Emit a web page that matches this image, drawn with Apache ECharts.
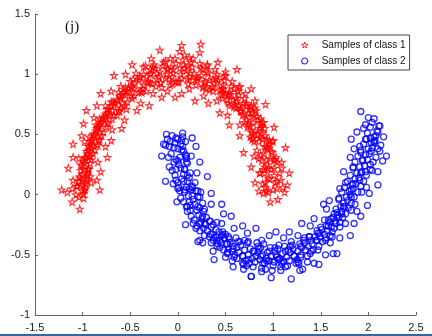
<!DOCTYPE html>
<html><head><meta charset="utf-8">
<script src="https://cdn.jsdelivr.net/npm/echarts@6/dist/echarts.min.js"></script>
<style>html,body{margin:0;padding:0;background:#fff}#c{width:432px;height:336px}</style>
</head><body><div id="c"></div>
<script>
var seriesNames = ['Samples of class 1', 'Samples of class 2'];
var xTicks = [-1.5, -1, -0.5, 0, 0.5, 1, 1.5, 2, 2.5];
var yTicks = [-1, -0.5, 0, 0.5, 1, 1.5];
var class1 = [
[1.05,-0.04],[0.93,0.03],[1.10,0.06],[0.97,-0.06],[1.02,0.10],[0.90,0.01],[1.08,0.12],
[1.04,0.05],[0.95,0.14],[0.89,0.09],[1.12,0.02],[0.98,0.21],[1.07,0.18],[0.92,0.10],
[1.01,0.16],[0.94,0.25],[0.86,0.18],[1.09,0.22],[0.97,0.30],[1.04,0.27],[0.90,0.21],
[0.99,0.35],[0.88,0.28],[0.95,0.22],[1.03,0.31],[0.94,0.38],[0.87,0.33],[1.01,0.29],
[0.91,0.40],[0.98,0.36],[0.85,0.30],[0.96,0.45],[0.89,0.46],[0.83,0.37],[0.97,0.42],
[0.88,0.51],[0.93,0.40],[0.80,0.44],[0.86,0.48],[0.91,0.55],[0.84,0.50],[0.78,0.46],
[0.87,0.58],[0.81,0.53],[0.92,0.49],[0.76,0.57],[0.84,0.62],[0.79,0.51],[0.88,0.60],
[0.80,0.66],[0.74,0.58],[0.86,0.55],[0.82,0.70],[0.75,0.64],[0.81,0.72],[0.70,0.60],
[0.77,0.73],[0.69,0.67],[0.73,0.56],[0.83,0.65],[0.72,0.76],[0.66,0.70],[0.78,0.68],
[0.70,0.80],[0.64,0.74],[0.75,0.71],[0.68,0.66],[0.62,0.78],[0.71,0.84],[0.66,0.69],
[0.63,0.86],[0.58,0.79],[0.69,0.76],[0.61,0.72],[0.55,0.83],[0.64,0.89],[0.60,0.75],
[0.56,0.90],[0.50,0.84],[0.61,0.80],[0.53,0.76],[0.48,0.88],[0.57,0.94],[0.52,0.79],
[0.49,0.95],[0.44,0.87],[0.54,0.85],[0.47,0.80],[0.41,0.93],[0.50,0.99],[0.45,0.83],
[0.40,0.97],[0.36,0.90],[0.46,0.88],[0.39,1.04],[0.33,0.95],[0.41,1.00],[0.37,0.86],
[0.31,1.02],[0.28,0.93],[0.37,0.96],[0.33,0.87],[0.25,0.99],[0.31,1.07],[0.27,0.90],
[0.24,1.05],[0.20,0.97],[0.29,0.94],[0.24,1.25],[0.17,1.01],[0.23,1.09],[0.19,0.91],
[0.15,1.06],[0.12,0.98],[0.20,0.95],[0.16,1.13],[0.09,1.03],[0.14,1.10],[0.11,0.92],
[0.06,1.08],[0.03,1.00],[0.10,0.96],[0.07,1.16],[0.02,1.05],[0.05,1.12],[0.00,0.93],
[-0.02,1.09],[0.04,1.24],[-0.05,1.01],[0.01,0.94],[-0.07,1.06],[-0.03,1.13],[-0.09,0.96],
[-0.11,1.04],[-0.06,0.98],[-0.13,1.11],[-0.08,0.91],[-0.16,1.07],[-0.12,1.00],[-0.18,0.93],
[-0.19,1.02],[-0.15,1.10],[-0.22,0.96],[-0.17,0.89],[-0.24,1.05],[-0.20,0.98],[-0.27,0.92],
[-0.28,1.01],[-0.25,1.08],[-0.31,0.94],[-0.23,0.90],[-0.33,0.98],[-0.29,1.04],[-0.36,0.91],
[-0.36,1.00],[-0.32,0.93],[-0.39,0.86],[-0.34,1.07],[-0.41,0.95],[-0.37,0.88],[-0.44,1.01],
[-0.45,0.93],[-0.41,0.85],[-0.48,0.89],[-0.40,0.98],[-0.49,0.90],[-0.46,0.82],[-0.53,0.86],
[-0.52,0.88],[-0.48,0.80],[-0.55,0.83],[-0.50,0.94],[-0.57,0.85],[-0.53,0.77],[-0.60,0.80],
[-0.59,0.83],[-0.56,0.74],[-0.63,0.78],[-0.55,0.89],[-0.64,0.79],[-0.60,0.72],[-0.67,0.74],
[-0.66,0.76],[-0.62,0.69],[-0.69,0.70],[-0.61,0.82],[-0.70,0.74],[-0.67,0.66],[-0.74,0.68],
[-0.72,0.71],[-0.69,0.63],[-0.76,0.65],[-0.68,0.77],[-0.76,0.67],[-0.73,0.59],[-0.80,0.61],
[-0.78,0.64],[-0.75,0.56],[-0.82,0.58],[-0.74,0.71],[-0.81,0.60],[-0.78,0.52],[-0.85,0.55],
[-0.83,0.57],[-0.80,0.49],[-0.87,0.51],[-0.79,0.63],[-0.86,0.53],[-0.83,0.45],[-0.90,0.47],
[-0.88,0.50],[-0.85,0.42],[-0.92,0.44],[-0.84,0.56],[-0.90,0.45],[-0.87,0.37],[-0.94,0.40],
[-0.92,0.42],[-0.89,0.34],[-0.96,0.36],[-0.88,0.49],[-0.94,0.37],[-0.91,0.29],[-0.98,0.31],
[-0.95,0.34],[-0.92,0.26],[-0.99,0.28],[-0.90,0.41],[-0.97,0.29],[-0.94,0.21],[-1.01,0.24],
[-0.98,0.26],[-0.95,0.18],[-1.02,0.20],[-0.93,0.32],[-0.99,0.21],[-0.96,0.13],[-1.03,0.15],
[-1.00,0.17],[-0.97,0.09],[-1.04,0.11],[-0.94,0.22],[-1.01,0.12],[-0.98,0.04],[-1.06,0.07],
[-0.95,0.16],[-1.02,0.08],[-0.99,0.01],[-1.11,0.05],[-0.96,0.11],[-1.00,0.03],[-1.22,0.04],
[-1.04,-0.02],[-0.97,0.06],[-1.03,-0.12],[-1.11,-0.06],[-0.99,-0.03],[-1.07,0.00],
[0.85,0.03],[1.15,0.08],[0.81,0.10],[1.17,0.18],[0.86,0.18],[1.09,0.27],[0.77,0.23],[1.13,0.39],
[0.80,0.32],[1.00,0.45],[0.69,0.35],[1.01,0.56],[0.76,0.48],[0.90,0.60],[0.65,0.49],[0.92,0.75],
[0.65,0.58],[0.81,0.78],[0.54,0.58],[0.77,0.88],[0.52,0.66],[0.65,0.90],[0.44,0.68],[0.62,1.04],
[0.41,0.78],[0.50,1.02],[0.32,0.76],[0.42,1.10],[0.27,0.82],[0.31,1.08],[0.18,0.78],[0.23,1.18],
[0.12,0.88],[0.12,1.14],[0.04,0.84],[0.02,1.19],[-0.03,0.81],[-0.08,1.13],[-0.11,0.86],[-0.19,1.20],
[-0.17,0.81],[-0.28,1.13],[-0.26,0.84],[-0.36,1.06],[-0.30,0.74],[-0.48,1.08],[-0.39,0.76],[-0.55,1.00],
[-0.43,0.70],[-0.67,0.99],[-0.54,0.71],[-0.70,0.86],[-0.56,0.62],[-0.81,0.84],[-0.59,0.55],[-0.85,0.74],
[-0.69,0.54],[-0.96,0.70],[-0.70,0.45],[-0.99,0.59],[-0.76,0.40],[-1.01,0.49],[-0.74,0.31],[-1.10,0.42],
[-0.84,0.27],[-1.10,0.31],[-0.81,0.19],[-1.15,0.22],[-0.85,0.12],[-1.10,0.12],[-0.82,0.04],[-1.16,0.02],
[0.95,0.02],[1.04,0.11],[0.91,0.18],[1.02,0.29],[0.90,0.34],[0.93,0.46],[0.79,0.47],[0.87,0.63],
[0.72,0.62],[0.72,0.74],[0.59,0.73],[0.59,0.88],[0.47,0.85],[0.42,0.95],[0.30,0.88],[0.26,1.04],
[0.15,0.95],[0.07,1.05],[-0.02,0.94],[-0.11,1.05],[-0.18,0.93],[-0.29,1.00],[-0.33,0.86],[-0.47,0.96],
[-0.49,0.82],[-0.62,0.85],[-0.61,0.70],[-0.76,0.74],[-0.74,0.60],[-0.86,0.58],[-0.82,0.46],[-0.98,0.44],
[-0.92,0.32],[-1.02,0.25],[-0.92,0.15],[-1.06,0.07],
[1.00,0.04],[0.96,0.13],[1.01,0.22],[0.93,0.29],[0.94,0.39],[0.85,0.44],[0.88,0.56],[0.79,0.60],
[0.74,0.68],[0.66,0.72],[0.64,0.83],[0.53,0.83],[0.48,0.91],[0.37,0.89],[0.32,1.01],[0.21,0.97],
[0.13,1.01],[0.04,0.97],[-0.05,1.04],[-0.13,0.97],[-0.22,1.01],[-0.29,0.93],[-0.40,0.97],[-0.46,0.88],
[-0.55,0.86],[-0.58,0.76],[-0.70,0.77],[-0.72,0.66],[-0.82,0.63],[-0.82,0.52],[-0.93,0.48],[-0.91,0.38],
[-0.97,0.31],[-0.94,0.21],[-1.03,0.14],[-0.98,0.04],
[0.92,0.06],[0.91,0.23],[0.99,0.44],[0.77,0.52],[0.77,0.74],[0.54,0.74],[0.48,0.98],[0.26,0.89],
[0.11,1.07],[-0.06,0.92],[-0.26,1.06],[-0.38,0.85],[-0.60,0.90],[-0.64,0.66],[-0.88,0.64],[-0.84,0.41],
[-1.04,0.30],[-0.91,0.10]
];
var class2 = [
[-0.02,0.47],[0.05,0.51],[-0.12,0.50],[-0.08,0.44],[0.03,0.42],[-0.11,0.46],
[-0.06,0.49],[0.04,0.45],[-0.13,0.41],[0.00,0.38],[-0.09,0.40],[0.06,0.36],[-0.03,0.43],[0.02,0.31],
[-0.07,0.34],[0.05,0.40],[-0.02,0.29],[0.08,0.33],[-0.04,0.27],[0.09,0.30],[-0.10,0.31],[0.03,0.22],
[0.01,0.25],[-0.06,0.20],[0.10,0.26],[0.06,0.17],[-0.03,0.16],[0.07,0.21],[0.12,0.14],[0.00,0.10],
[0.04,0.13],[-0.05,0.09],[0.13,0.18],[0.09,0.06],[0.02,0.03],[0.10,0.11],[0.15,0.07],[-0.02,0.12],
[0.07,0.02],[0.14,0.04],[0.03,-0.03],[0.18,0.10],[0.11,-0.01],[0.06,-0.06],[0.19,0.03],[0.13,-0.09],
[0.16,-0.04],[0.09,-0.10],[0.21,-0.02],[0.12,0.05],[0.18,-0.08],[0.10,-0.14],[0.23,-0.11],[0.15,-0.01],
[0.20,-0.13],[0.14,-0.18],[0.26,-0.07],[0.17,-0.21],[0.22,-0.17],[0.27,-0.14],[0.16,-0.24],[0.25,-0.20],
[0.24,-0.23],[0.30,-0.19],[0.20,-0.26],[0.29,-0.25],[0.27,-0.28],[0.33,-0.22],[0.23,-0.30],[0.35,-0.27],
[0.31,-0.30],[0.37,-0.25],[0.28,-0.34],[0.21,-0.39],[0.34,-0.33],[0.40,-0.29],[0.26,-0.40],[0.38,-0.36],
[0.37,-0.38],[0.43,-0.31],[0.33,-0.35],[0.42,-0.41],[0.40,-0.35],[0.37,-0.47],[0.46,-0.34],[0.44,-0.44],
[0.45,-0.40],[0.49,-0.36],[0.41,-0.43],[0.48,-0.46],[0.51,-0.41],[0.47,-0.31],[0.53,-0.45],[0.44,-0.38],
[0.54,-0.37],[0.52,-0.49],[0.58,-0.43],[0.50,-0.33],[0.57,-0.47],[0.55,-0.40],[0.61,-0.36],[0.59,-0.52],
[0.62,-0.44],[0.60,-0.50],[0.65,-0.39],[0.57,-0.55],[0.64,-0.48],[0.68,-0.57],[0.66,-0.42],[0.62,-0.53],
[0.70,-0.46],[0.68,-0.51],[0.73,-0.40],[0.71,-0.55],[0.74,-0.50],[0.72,-0.59],[0.76,-0.45],[0.69,-0.62],
[0.78,-0.53],[0.77,-0.68],[0.80,-0.47],[0.75,-0.57],[0.82,-0.51],[0.79,-0.60],[0.84,-0.43],[0.81,-0.56],
[0.86,-0.54],[0.84,-0.48],[0.88,-0.61],[0.83,-0.40],[0.89,-0.50],[0.91,-0.57],[0.87,-0.44],[0.93,-0.53],
[0.94,-0.48],[0.92,-0.62],[0.96,-0.55],[0.90,-0.41],[0.98,-0.51],[0.97,-0.44],[1.00,-0.59],[0.95,-0.55],
[1.02,-0.47],[1.01,-0.56],[1.04,-0.52],[0.99,-0.63],[1.06,-0.54],[1.05,-0.45],[1.08,-0.60],[1.03,-0.50],
[1.10,-0.49],[1.09,-0.57],[1.12,-0.43],[1.07,-0.53],[1.14,-0.52],[1.13,-0.60],[1.16,-0.46],[1.11,-0.56],
[1.18,-0.48],[1.17,-0.55],[1.20,-0.42],[1.15,-0.59],[1.22,-0.51],[1.21,-0.45],[1.24,-0.57],[1.19,-0.39],
[1.26,-0.47],[1.25,-0.54],[1.28,-0.41],[1.31,-0.62],[1.30,-0.44],[1.29,-0.52],[1.32,-0.38],[1.27,-0.57],
[1.34,-0.46],[1.33,-0.40],[1.36,-0.51],[1.38,-0.35],[1.37,-0.43],[1.40,-0.38],[1.39,-0.49],[1.43,-0.57],
[1.41,-0.41],[1.44,-0.35],[1.42,-0.46],[1.46,-0.30],[1.45,-0.38],[1.48,-0.43],[1.47,-0.32],[1.50,-0.27],
[1.49,-0.35],[1.52,-0.39],[1.51,-0.29],[1.53,-0.08],[1.54,-0.33],[1.56,-0.26],[1.55,-0.38],[1.58,-0.21],
[1.57,-0.30],[1.60,-0.34],[1.59,-0.23],[1.63,-0.49],[1.61,-0.27],[1.63,-0.19],[1.62,-0.31],[1.66,-0.24],
[1.65,-0.22],[1.67,-0.15],[1.64,-0.28],[1.69,-0.19],[1.68,-0.17],[1.70,-0.23],[1.71,-0.10],[1.66,-0.12],
[1.72,-0.14],[1.74,-0.07],[1.73,-0.19],[1.69,-0.03],[1.75,-0.10],[1.77,-0.02],[1.76,-0.16],[1.72,0.02],
[1.78,-0.05],[1.80,0.03],[1.79,-0.11],[1.75,0.06],[1.81,0.00],[1.83,0.08],[1.82,-0.07],[1.78,0.11],
[1.84,0.05],[1.86,0.13],[1.85,-0.02],[1.81,0.16],[1.87,0.09],[1.88,0.18],[1.89,0.02],[1.84,0.22],
[1.90,0.14],[1.91,0.23],[1.92,0.07],[1.86,0.27],[1.93,0.19],[1.94,0.28],[1.95,0.11],[1.89,0.32],
[1.96,0.24],[1.97,0.33],[1.98,0.16],[1.92,0.37],[1.99,0.29],[2.00,0.38],[2.02,0.21],[1.95,0.42],
[2.01,0.34],[2.03,0.43],[2.05,0.27],[1.97,0.46],[2.04,0.39],[2.06,0.48],[2.08,0.31],[1.99,0.51],
[2.06,0.44],[2.09,0.53],[2.12,0.36],[2.02,0.56],[2.08,0.49],[2.11,0.57],[2.19,0.32],[2.04,0.60],
[2.10,0.52],[2.13,0.41],[2.06,0.63],[2.12,0.57],[1.95,0.55],[1.92,0.69],[2.00,0.64],[1.88,0.52],
[2.02,0.47],[1.97,0.58],[2.07,0.45],
[0.15,0.47],[-0.15,0.42],[0.19,0.40],[-0.17,0.32],[0.14,0.32],[-0.09,0.23],[0.23,0.27],[-0.13,0.11],
[0.20,0.18],[0.00,0.05],[0.31,0.15],[-0.01,-0.06],[0.24,0.02],[0.10,-0.10],[0.35,0.01],[0.08,-0.25],
[0.35,-0.08],[0.19,-0.28],[0.46,-0.08],[0.23,-0.38],[0.48,-0.16],[0.35,-0.40],[0.56,-0.18],[0.38,-0.54],
[0.59,-0.28],[0.50,-0.52],[0.68,-0.26],[0.58,-0.60],[0.73,-0.32],[0.69,-0.58],[0.82,-0.28],[0.77,-0.68],
[0.88,-0.38],[0.88,-0.64],[0.96,-0.34],[0.98,-0.69],[1.03,-0.31],[1.08,-0.63],[1.11,-0.36],[1.19,-0.70],
[1.17,-0.31],[1.28,-0.63],[1.26,-0.34],[1.36,-0.56],[1.30,-0.24],[1.48,-0.58],[1.39,-0.26],[1.55,-0.50],
[1.43,-0.20],[1.67,-0.49],[1.54,-0.21],[1.70,-0.36],[1.56,-0.12],[1.81,-0.34],[1.59,-0.05],[1.85,-0.24],
[1.69,-0.04],[1.92,-0.18],[1.70,0.05],[1.99,-0.09],[1.76,0.10],[2.01,0.01],[1.74,0.19],[2.10,0.08],
[1.84,0.23],[2.10,0.19],[1.81,0.31],[2.15,0.28],[1.85,0.38],[2.10,0.38],[1.82,0.46],[2.16,0.48],
[0.05,0.48],[-0.04,0.39],[0.09,0.32],[-0.02,0.21],[0.10,0.16],[0.07,0.04],[0.21,0.03],[0.13,-0.13],
[0.28,-0.12],[0.28,-0.24],[0.41,-0.23],[0.41,-0.38],[0.53,-0.35],[0.58,-0.45],[0.70,-0.38],[0.74,-0.54],
[0.85,-0.45],[0.93,-0.55],[1.02,-0.44],[1.11,-0.55],[1.18,-0.43],[1.29,-0.50],[1.33,-0.36],[1.47,-0.46],
[1.49,-0.32],[1.62,-0.35],[1.61,-0.20],[1.76,-0.24],[1.74,-0.10],[1.86,-0.08],[1.82,0.04],[1.98,0.06],
[1.92,0.18],[2.02,0.25],[1.92,0.35],[2.06,0.43],
[0.00,0.46],[0.04,0.37],[0.00,0.28],[0.07,0.21],[0.06,0.11],[0.15,0.06],[0.12,-0.06],[0.21,-0.10],
[0.26,-0.18],[0.34,-0.22],[0.36,-0.33],[0.47,-0.33],[0.52,-0.41],[0.63,-0.39],[0.68,-0.51],[0.79,-0.47],
[0.87,-0.51],[0.96,-0.47],[1.05,-0.54],[1.13,-0.47],[1.22,-0.51],[1.29,-0.43],[1.40,-0.47],[1.46,-0.38],
[1.55,-0.36],[1.58,-0.26],[1.70,-0.27],[1.72,-0.16],[1.82,-0.13],[1.82,-0.02],[1.93,0.02],[1.91,0.12],
[1.97,0.19],[1.94,0.29],[2.03,0.36],[1.98,0.46],
[0.08,0.44],[0.09,0.27],[0.01,0.06],[0.23,-0.02],[0.23,-0.24],[0.46,-0.24],[0.52,-0.48],[0.74,-0.39],
[0.89,-0.57],[1.06,-0.42],[1.26,-0.56],[1.38,-0.35],[1.60,-0.40],[1.64,-0.16],[1.88,-0.14],[1.84,0.09],
[2.04,0.20],[1.91,0.40]
];
var starPath = 'path://M50,0 L61,35 L98,35 L68,57 L79,91 L50,70 L21,91 L32,57 L2,35 L39,35 Z';
var chart = echarts.init(document.getElementById('c'));
var axisCommon = {
  axisLine: {show: true, onZero: false, lineStyle: {color: '#666', width: 1}},
  axisTick: {show: true, inside: true, length: 3, lineStyle: {color: '#666'}},
  splitLine: {show: false},
  axisLabel: {color: '#222', fontSize: 11, fontFamily: 'Liberation Sans, Arial, sans-serif'}
};
chart.setOption({
  animation: false,
  backgroundColor: '#fff',
  grid: {left: 35, right: 16, top: 14, bottom: 21, containLabel: false},
  xAxis: Object.assign({type: 'value', min: xTicks[0], max: xTicks[xTicks.length-1], interval: 0.5}, axisCommon,
    {axisLabel: Object.assign({}, axisCommon.axisLabel, {margin: 7, formatter: function(v){return String(v);}})}),
  yAxis: Object.assign({type: 'value', min: yTicks[0], max: yTicks[yTicks.length-1], interval: 0.5}, axisCommon,
    {axisLabel: Object.assign({}, axisCommon.axisLabel, {margin: 5, formatter: function(v){return String(v);}})}),
  legend: {
    orient: 'vertical', left: 288, top: 35,
    padding: [5, 4, 4, 13], itemGap: 6, itemWidth: 24, itemHeight: 6,
    borderColor: '#444', borderWidth: 1, backgroundColor: '#fff',
    textStyle: {color: '#111', fontSize: 10, lineHeight: 10, fontFamily: 'Liberation Sans, Arial, sans-serif'},
    data: [
      {name: seriesNames[0], icon: starPath, itemStyle: {color: 'rgba(0,0,0,0)', borderColor: '#ff0000', borderWidth: 1}},
      {name: seriesNames[1], icon: 'circle', itemStyle: {color: 'rgba(0,0,0,0)', borderColor: '#0000ff', borderWidth: 1.2}}
    ]
  },
  graphic: [
    {type: 'text', left: 65, top: 20, style: {text: '(j)', font: '15px "Liberation Serif", "Times New Roman", serif', fill: '#111'}},
    {type: 'rect', left: 0, top: 334, shape: {width: 432, height: 2}, style: {fill: '#3a64a8'}}
  ],
  series: [
    {name: seriesNames[0], type: 'scatter', data: class1, symbol: starPath, symbolSize: 7,
     itemStyle: {color: 'rgba(0,0,0,0)', borderColor: '#ff0000', borderWidth: 1.1}},
    {name: seriesNames[1], type: 'scatter', data: class2, symbol: 'circle', symbolSize: 6,
     itemStyle: {color: 'rgba(0,0,0,0)', borderColor: '#0000ff', borderWidth: 1.3}}
  ]
});
</script></body></html>
